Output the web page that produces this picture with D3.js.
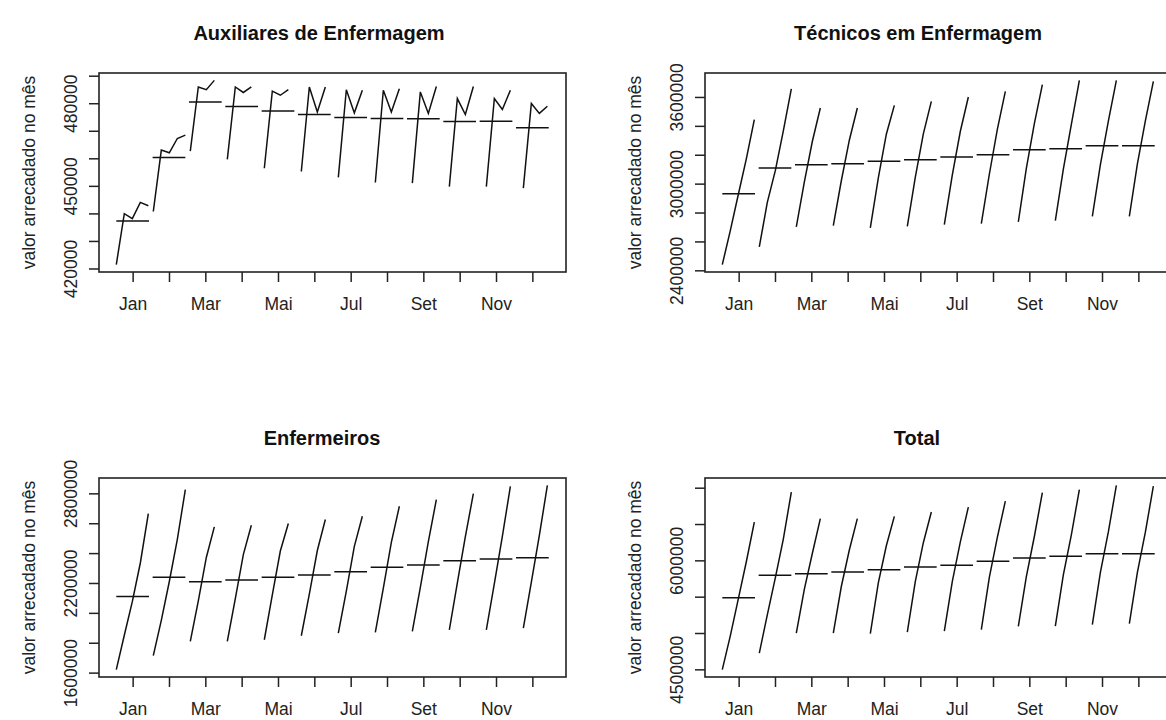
<!DOCTYPE html>
<html>
<head>
<meta charset="utf-8">
<script src="https://cdn.jsdelivr.net/npm/d3@7"></script>
<style>
  body { margin: 0; background: #fff; }
  svg { display: block; font-family: "Liberation Sans", Arial, sans-serif; }
</style>
</head>
<body>
<script>
const months = ["Jan", "Fev", "Mar", "Abr", "Mai", "Jun", "Jul", "Ago", "Set", "Out", "Nov", "Dez"];

// one array per month, one value per year (Jan and Fev have 5 years, the rest 4)
const auxiliares = [
  [421400, 439900, 438100, 444000, 442800],
  [440700, 463000, 462000, 467200, 468400],
  [462600, 485900, 484900, 488300],
  [459600, 485900, 483900, 485900],
  [456400, 484400, 482900, 484900],
  [455200, 485900, 476800, 485900],
  [453100, 484900, 476500, 484700],
  [451200, 484700, 476800, 485300],
  [451000, 484100, 476300, 486100],
  [449700, 481700, 475900, 486100],
  [449700, 481700, 477700, 484700],
  [449200, 479900, 476300, 478900]
];
const tecnicos = [
  [2439400, 2675000, 2925000, 3171800, 3442800],
  [2561900, 2870000, 3090000, 3365800, 3655300],
  [2700300, 3010000, 3291500, 3523800],
  [2709300, 3020000, 3300500, 3523800],
  [2693400, 3040000, 3342000, 3541800],
  [2704500, 3045000, 3345000, 3569500],
  [2716200, 3060000, 3362600, 3600000],
  [2723200, 3065000, 3375500, 3638700],
  [2734900, 3105000, 3415900, 3685000],
  [2743900, 3100000, 3410100, 3714800],
  [2773700, 3130000, 3433100, 3714800],
  [2773700, 3135000, 3435000, 3707900]
];
const enfermeiros = [
  [1620000, 1850000, 2075000, 2333800, 2664700],
  [1713300, 1950000, 2210000, 2492000, 2824700],
  [1808700, 2080000, 2370700, 2575400],
  [1808700, 2095000, 2389600, 2586700],
  [1820000, 2120000, 2414000, 2598000],
  [1846700, 2125000, 2417200, 2624700],
  [1864700, 2145000, 2445200, 2646700],
  [1868700, 2165000, 2471700, 2713400],
  [1875300, 2170000, 2476600, 2758100],
  [1886700, 2200000, 2510100, 2798000],
  [1886700, 2195000, 2511600, 2846700],
  [1898000, 2205000, 2518400, 2853400]
];
const total = [
  [4495900, 4960000, 5470000, 5980600, 6527000],
  [4724300, 5250000, 5760000, 6293400, 6939800],
  [4999500, 5600000, 6094300, 6573800],
  [4999500, 5640000, 6142300, 6573800],
  [4991300, 5690000, 6201300, 6605400],
  [5013300, 5710000, 6242900, 6664600],
  [5027000, 5710000, 6254000, 6733400],
  [5046300, 5765000, 6317500, 6816000],
  [5091700, 5775000, 6328100, 6931600],
  [5095900, 5800000, 6351200, 6972900],
  [5115100, 5830000, 6391300, 7032000],
  [5128900, 5830000, 6387100, 7022400]
];

const auxTicks = [420000, 430000, 440000, 450000, 460000, 470000, 480000, 490000];
const auxLabels = [420000, 450000, 480000];
const tecTicks = [2400000, 2600000, 2800000, 3000000, 3200000, 3400000, 3600000];
const tecLabels = [2400000, 3000000, 3600000];
const enfTicks = [1600000, 1800000, 2000000, 2200000, 2400000, 2600000, 2800000];
const enfLabels = [1600000, 2200000, 2800000];
const totTicks = [4500000, 5000000, 5500000, 6000000, 6500000, 7000000];
const totLabels = [4500000, 6000000];

const panels = [
  {title: "Auxiliares de Enfermagem", data: auxiliares, ticks: auxTicks, labels: auxLabels, left: 99, top: 73, tx: 319},
  {title: "Técnicos em Enfermagem", data: tecnicos, ticks: tecTicks, labels: tecLabels, left: 705, top: 73, tx: 918},
  {title: "Enfermeiros", data: enfermeiros, ticks: enfTicks, labels: enfLabels, left: 99, top: 478, tx: 322},
  {title: "Total", data: total, ticks: totTicks, labels: totLabels, left: 705, top: 478, tx: 917}
];

const width = 1166, height = 720;
const pw = 467, ph = 199;

const svg = d3.select("body").append("svg")
    .attr("width", width)
    .attr("height", height);

panels.forEach(p => {
  const nObs = d3.sum(p.data, d => d.length);
  const span = nObs - 1;

  const x = d3.scaleLinear().domain([0.55 - 0.476, 12.45 + 0.476]).range([0, pw]);
  const [lo, hi] = d3.extent(p.data.flat());
  const pad = (hi - lo) * 0.04;
  const y = d3.scaleLinear().domain([lo - pad, hi + pad]).range([ph, 0]);

  const g = svg.append("g").attr("transform", `translate(${p.left},${p.top})`);

  // sub-series: month m, year k sits at m + 0.9 * t / span - 0.45
  const line = d3.line().x(d => x(d.x)).y(d => y(d.v));
  p.data.forEach((vals, m) => {
    const pts = vals.map((v, k) => ({x: m + 1 + 0.9 * (k * 12 + m) / span - 0.45, v}));
    g.append("path")
        .attr("d", line(pts))
        .attr("fill", "none")
        .attr("stroke", "#111")
        .attr("stroke-width", 1.5);
    g.append("line")
        .attr("x1", x(m + 1 - 0.45))
        .attr("x2", x(m + 1 + 0.45))
        .attr("y1", y(d3.mean(vals)))
        .attr("y2", y(d3.mean(vals)))
        .attr("stroke", "#111")
        .attr("stroke-width", 1.5);
  });

  g.append("rect")
      .attr("width", pw)
      .attr("height", ph)
      .attr("fill", "none")
      .attr("stroke", "#222")
      .attr("stroke-width", 1.6);

  const xa = g.append("g")
      .attr("transform", `translate(0,${ph})`)
      .call(d3.axisBottom(x)
        .tickValues(d3.range(1, 13))
        .tickSize(10)
        .tickFormat(d => d % 2 ? months[d - 1] : ""));
  xa.select(".domain").remove();
  xa.selectAll("line").attr("stroke", "#222").attr("stroke-width", 1.5);
  xa.selectAll("text")
      .attr("y", 26)
      .attr("font-size", 17.5)
      .attr("font-family", null)
      .attr("fill", "#222");

  const ya = g.append("g")
      .call(d3.axisLeft(y)
        .tickValues(p.ticks)
        .tickSize(10)
        .tickFormat(d => p.labels.includes(d) ? d3.format("d")(d) : ""));
  ya.select(".domain").remove();
  ya.selectAll("line").attr("stroke", "#222").attr("stroke-width", 1.5);
  ya.selectAll("text")
      .attr("x", null)
      .attr("dy", null)
      .attr("transform", "translate(-22,0) rotate(-90)")
      .attr("text-anchor", "middle")
      .attr("font-size", 17.5)
      .attr("font-family", null)
      .attr("fill", "#222");

  g.append("text")
      .attr("transform", `translate(-64,${ph / 2}) rotate(-90)`)
      .attr("text-anchor", "middle")
      .attr("font-size", 17.5)
      .attr("fill", "#222")
      .text("valor arrecadado no mês");

  g.append("text")
      .attr("x", p.tx - p.left)
      .attr("y", -33)
      .attr("text-anchor", "middle")
      .attr("font-size", 20)
      .attr("font-weight", "bold")
      .attr("fill", "#111")
      .text(p.title);
});
</script>
</body>
</html>
